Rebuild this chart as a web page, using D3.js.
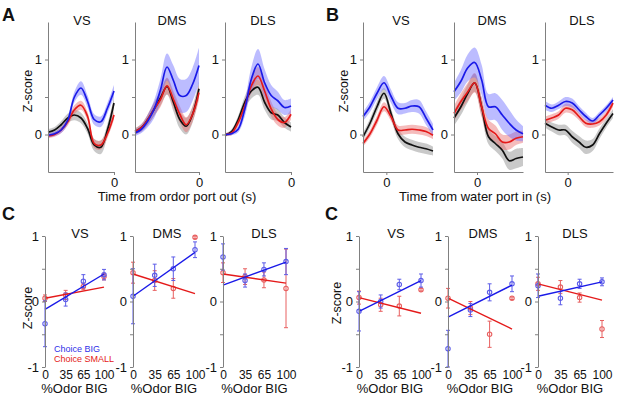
<!DOCTYPE html>
<html>
<head>
<meta charset="utf-8">
<script src="https://cdn.jsdelivr.net/npm/d3@7"></script>
<style>
  body { margin: 0; background: #fff; }
</style>
</head>
<body>
<div id="canvas"></div>
<script>
// ---- traces: time samples ----
const aTime = [-2, -1.8, -1.6, -1.4, -1.2, -1, -0.8, -0.6, -0.4, -0.2, 0];
const bTime = [-1, -0.7, -0.4, -0.1, 0.2, 0.5, 0.8, 1.1, 1.4, 1.7, 2];

// A: time from odor port out
const aVsBlue = [-0.01, 0.01, 0.06, 0.19, 0.5, 0.62, 0.44, 0.2, 0.17, 0.35, 0.58];
const aVsRed = [-0.02, 0, 0.06, 0.17, 0.33, 0.39, 0.24, -0.12, -0.14, 0.01, 0.26];
const aVsBlack = [0.03, 0.06, 0.13, 0.22, 0.26, 0.22, 0.08, -0.14, -0.17, 0.06, 0.42];
const aVsBlueSem = [0.03, 0.03, 0.04, 0.05, 0.07, 0.09, 0.08, 0.07, 0.07, 0.07, 0.08];
const aVsRedSem = [0.03, 0.03, 0.04, 0.05, 0.06, 0.06, 0.06, 0.06, 0.06, 0.06, 0.06];
const aVsBlackSem = [0.04, 0.04, 0.05, 0.06, 0.07, 0.07, 0.07, 0.08, 0.09, 0.08, 0.08];

const aDmsBlue = [0.02, 0.07, 0.18, 0.34, 0.6, 0.9, 0.72, 0.52, 0.52, 0.67, 0.92];
const aDmsRed = [0.04, 0.09, 0.2, 0.34, 0.47, 0.65, 0.47, 0.27, 0.13, 0.27, 0.56];
const aDmsBlack = [0.04, 0.09, 0.2, 0.34, 0.49, 0.64, 0.43, 0.2, 0.11, 0.27, 0.61];
const aDmsBlueSem = [0.04, 0.05, 0.08, 0.12, 0.15, 0.18, 0.2, 0.22, 0.22, 0.22, 0.24];
const aDmsRedSem = [0.04, 0.05, 0.07, 0.09, 0.1, 0.11, 0.11, 0.11, 0.1, 0.1, 0.1];
const aDmsBlackSem = [0.04, 0.05, 0.07, 0.09, 0.1, 0.11, 0.12, 0.12, 0.11, 0.11, 0.1];

const aDlsBlue = [0, 0.01, 0.07, 0.34, 0.74, 0.94, 0.69, 0.52, 0.45, 0.36, 0.38];
const aDlsRed = [0, 0.02, 0.16, 0.38, 0.65, 0.78, 0.58, 0.34, 0.2, 0.16, 0.27];
const aDlsBlack = [-0.01, 0.04, 0.2, 0.43, 0.58, 0.63, 0.43, 0.29, 0.26, 0.16, 0.1];
const aDlsBlueSem = [0.02, 0.02, 0.04, 0.1, 0.16, 0.2, 0.18, 0.14, 0.12, 0.1, 0.1];
const aDlsRedSem = [0.02, 0.03, 0.05, 0.08, 0.1, 0.12, 0.12, 0.1, 0.08, 0.07, 0.07];
const aDlsBlackSem = [0.02, 0.03, 0.05, 0.08, 0.1, 0.1, 0.1, 0.09, 0.08, 0.07, 0.06];

// B: time from water port in
const bVsBlue = [0.24, 0.37, 0.55, 0.69, 0.51, 0.35, 0.35, 0.38, 0.37, 0.22, 0.06];
const bVsRed = [-0.12, 0.01, 0.19, 0.37, 0.24, 0.06, 0.06, 0.07, 0.06, 0.04, -0.01];
const bVsBlack = [-0.03, 0.15, 0.37, 0.55, 0.28, 0.01, -0.1, -0.14, -0.17, -0.19, -0.22];
const bVsBlueSem = [0.06, 0.07, 0.08, 0.09, 0.09, 0.08, 0.07, 0.08, 0.09, 0.09, 0.08];
const bVsRedSem = [0.04, 0.05, 0.06, 0.06, 0.06, 0.06, 0.06, 0.06, 0.06, 0.06, 0.05];
const bVsBlackSem = [0.05, 0.06, 0.07, 0.07, 0.07, 0.07, 0.07, 0.07, 0.07, 0.07, 0.06];

const bDmsBlue = [0.57, 0.71, 0.89, 0.96, 0.73, 0.37, 0.37, 0.26, 0.15, 0.06, 0.01];
const bDmsRed = [0.28, 0.44, 0.57, 0.69, 0.37, 0.08, 0.01, -0.1, -0.1, -0.05, -0.03];
const bDmsBlack = [0.22, 0.37, 0.55, 0.69, 0.37, -0.03, -0.12, -0.21, -0.35, -0.32, -0.3];
const bDmsBlueSem = [0.12, 0.15, 0.18, 0.2, 0.2, 0.17, 0.18, 0.2, 0.18, 0.14, 0.1];
const bDmsRedSem = [0.1, 0.11, 0.12, 0.13, 0.13, 0.12, 0.11, 0.1, 0.1, 0.09, 0.08];
const bDmsBlackSem = [0.1, 0.11, 0.12, 0.12, 0.12, 0.1, 0.1, 0.11, 0.12, 0.13, 0.12];

const bDlsBlue = [0.39, 0.35, 0.39, 0.44, 0.42, 0.33, 0.24, 0.18, 0.26, 0.35, 0.46];
const bDlsRed = [0.19, 0.22, 0.26, 0.35, 0.33, 0.24, 0.15, 0.14, 0.17, 0.26, 0.42];
const bDlsBlack = [0.15, 0.1, 0.06, 0.06, -0.03, -0.1, -0.17, -0.14, 0.01, 0.15, 0.28];
const bDlsBlueSem = [0.06, 0.05, 0.05, 0.06, 0.06, 0.05, 0.05, 0.04, 0.04, 0.04, 0.04];
const bDlsRedSem = [0.05, 0.05, 0.05, 0.06, 0.06, 0.05, 0.05, 0.05, 0.05, 0.05, 0.05];
const bDlsBlackSem = [0.06, 0.06, 0.07, 0.07, 0.08, 0.08, 0.09, 0.08, 0.07, 0.06, 0.06];

// ---- C: z-score vs %Odor BIG ----
const cOdor = [0, 35, 65, 100];

const cOutVsBig = [-0.34, 0.03, 0.31, 0.41], cOutVsBigErr = [0.35, 0.1, 0.1, 0.08];
const cOutVsSmall = [0.05, 0.1, 0.23, 0.38], cOutVsSmallErr = [0.05, 0.07, 0.05, 0.05];
const cOutVsFitBig = [-0.12, 0.42], cOutVsFitSmall = [0.05, 0.22];

const cOutDmsBig = [0.08, 0.4, 0.5, 0.79], cOutDmsBigErr = [0.42, 0.17, 0.18, 0.12];
const cOutDmsSmall = [0.44, 0.32, 0.2, 0.98], cOutDmsSmallErr = [0.16, 0.15, 0.15, 0.02];
const cOutDmsFitBig = [0.08, 0.75], cOutDmsFitSmall = [0.42, 0.12];

const cOutDlsBig = [0.68, 0.32, 0.49, 0.61], cOutDlsBigErr = [0.2, 0.1, 0.1, 0.2];
const cOutDlsSmall = [0.44, 0.38, 0.33, 0.2], cOutDlsSmallErr = [0.15, 0.12, 0.12, 0.6];
const cOutDlsFitBig = [0.25, 0.6], cOutDlsFitSmall = [0.42, 0.28];

const cInVsBig = [-0.15, 0, 0.26, 0.32], cInVsBigErr = [0.3, 0.1, 0.08, 0.1];
const cInVsSmall = [0.06, -0.05, -0.07, 0.18], cInVsSmallErr = [0.1, 0.1, 0.15, 0.02];
const cInVsFitBig = [-0.15, 0.32], cInVsFitSmall = [0.06, -0.18];

const cInDmsBig = [-0.72, -0.13, 0.14, 0.27], cInDmsBigErr = [0.28, 0.1, 0.13, 0.12];
const cInDmsSmall = [0.05, -0.1, -0.5, 0.05], cInDmsSmallErr = [0.15, 0.1, 0.2, 0.02];
const cInDmsFitBig = [-0.24, 0.25], cInDmsFitSmall = [0.05, -0.42];

const cInDlsBig = [0.24, 0.05, 0.27, 0.3], cInDlsBigErr = [0.18, 0.1, 0.07, 0.06];
const cInDlsSmall = [0.27, 0.22, 0.06, -0.42], cInDlsSmallErr = [0.1, 0.1, 0.07, 0.13];
const cInDlsFitBig = [0.08, 0.3], cInDlsFitSmall = [0.27, 0.02];

// ---- drawing ----
const FONT = '"Liberation Sans", Arial, sans-serif';
const BLUE = "#1a1ae8", RED = "#e41a1a", BLACK = "#111";

const svg = d3.select("#canvas")
    .append("svg")
    .attr("width", 617)
    .attr("height", 396)
    .style("font-family", FONT);

function styleAxis(g, size) {
    g.attr("font-family", null);
    g.selectAll("path, line").attr("stroke", "#808080");
    g.selectAll("text").attr("fill", "#111").style("font-size", size + "px");
}

function label(txt, x, y, opts = {}) {
    const t = svg.append("text")
        .attr("x", x).attr("y", y)
        .attr("text-anchor", opts.anchor || "middle")
        .style("font-size", (opts.size || 13) + "px")
        .style("font-weight", opts.bold ? "bold" : "normal")
        .attr("fill", opts.color || "#111")
        .text(txt);
    if (opts.rotate) t.attr("transform", `rotate(-90,${x},${y})`);
    return t;
}

function tracePanel(p) {
    const x = d3.scaleLinear().domain(p.xDomain).range([p.x0, p.x1]);
    const y = d3.scaleLinear().domain([-0.5, 1.5]).range([172, 22]);
    const g = svg.append("g");

    const area = d3.area()
        .curve(d3.curveCatmullRom)
        .x((d, i) => x(p.time[i]))
        .y0(d => y(d[0] - d[1]))
        .y1(d => y(d[0] + d[1]));
    const line = d3.line()
        .curve(d3.curveCatmullRom)
        .x((d, i) => x(p.time[i]))
        .y(d => y(d));

    const curves = [
        { mean: p.black, sem: p.blackSem, stroke: BLACK, fill: "#888" },
        { mean: p.red, sem: p.redSem, stroke: RED, fill: "#e86a6a" },
        { mean: p.blue, sem: p.blueSem, stroke: BLUE, fill: "#6a6aff" }
    ];
    curves.forEach(c => g.append("path")
        .datum(d3.zip(c.mean, c.sem))
        .attr("d", area)
        .attr("fill", c.fill)
        .attr("fill-opacity", 0.45));
    curves.forEach(c => g.append("path")
        .datum(c.mean)
        .attr("d", line)
        .attr("fill", "none")
        .attr("stroke", c.stroke)
        .attr("stroke-width", 1.7));

    g.append("g")
        .attr("transform", `translate(${p.x0},0)`)
        .call(d3.axisLeft(y).tickValues([0, 0.5, 1]).tickSize(3).tickSizeOuter(0)
            .tickFormat(d => d === 0.5 ? "" : d))
        .call(styleAxis, 13);
    g.append("g")
        .attr("transform", "translate(0,172)")
        .call(d3.axisBottom(x).tickValues([0]).tickSize(3).tickSizeOuter(0)
            .tickFormat(d3.format("d")))
        .call(styleAxis, 13);

    label(p.title, p.titleX, 25);
}

function dosePanel(p) {
    const x = d3.scaleLinear().domain([0, 100]).range([p.x0, p.x1]);
    const y = d3.scaleLinear().domain([-1, 1]).range([367, 236]);
    const g = svg.append("g");

    const sets = [
        { mean: p.small, err: p.smallErr, fit: p.fitSmall, stroke: RED, light: "#e86060" },
        { mean: p.big, err: p.bigErr, fit: p.fitBig, stroke: BLUE, light: "#5c5ce8" }
    ];

    sets.forEach(s => {
        const pts = g.append("g")
            .selectAll("g")
            .data(cOdor.map((o, i) => ({ o, m: s.mean[i], e: s.err[i] })))
            .join("g")
            .attr("stroke", s.light)
            .attr("fill", "none");
        pts.append("line")
            .attr("x1", d => x(d.o)).attr("x2", d => x(d.o))
            .attr("y1", d => y(d.m - d.e)).attr("y2", d => y(d.m + d.e));
        pts.append("line")
            .attr("x1", d => x(d.o) - 2).attr("x2", d => x(d.o) + 2)
            .attr("y1", d => y(d.m - d.e)).attr("y2", d => y(d.m - d.e));
        pts.append("line")
            .attr("x1", d => x(d.o) - 2).attr("x2", d => x(d.o) + 2)
            .attr("y1", d => y(d.m + d.e)).attr("y2", d => y(d.m + d.e));
        pts.append("circle")
            .attr("cx", d => x(d.o)).attr("cy", d => y(d.m))
            .attr("r", 2.2)
            .attr("stroke-width", 1.1);
    });

    sets.forEach(s => g.append("path")
        .datum([[cOdor[0], s.fit[0]], [cOdor[cOdor.length - 1], s.fit[1]]])
        .attr("d", d3.line().x(d => x(d[0])).y(d => y(d[1])))
        .attr("stroke", s.stroke)
        .attr("stroke-width", 1.4)
        .attr("fill", "none"));

    g.append("g")
        .attr("transform", `translate(${p.x0},0)`)
        .call(d3.axisLeft(y).tickValues([-1, -0.5, 0, 0.5, 1]).tickSize(3).tickSizeOuter(0)
            .tickFormat(d => Number.isInteger(d) ? d : ""))
        .call(styleAxis, 13);
    g.append("g")
        .attr("transform", "translate(0,368)")
        .call(d3.axisBottom(x).tickValues(cOdor).tickSize(0).tickPadding(2))
        .call(styleAxis, 12)
        .call(a => a.select(".domain").remove());

    label(p.title, p.titleX, 238);
    label("%Odor BIG", (p.x0 + p.x1) / 2, 393);
}

// Panel A
tracePanel({ title: "VS", titleX: 82, x0: 48, x1: 114, xDomain: [-2, 0], time: aTime,
    blue: aVsBlue, red: aVsRed, black: aVsBlack, blueSem: aVsBlueSem, redSem: aVsRedSem, blackSem: aVsBlackSem });
tracePanel({ title: "DMS", titleX: 172, x0: 135, x1: 199, xDomain: [-2, 0], time: aTime,
    blue: aDmsBlue, red: aDmsRed, black: aDmsBlack, blueSem: aDmsBlueSem, redSem: aDmsRedSem, blackSem: aDmsBlackSem });
tracePanel({ title: "DLS", titleX: 263, x0: 225, x1: 291, xDomain: [-2, 0], time: aTime,
    blue: aDlsBlue, red: aDlsRed, black: aDlsBlack, blueSem: aDlsBlueSem, redSem: aDlsRedSem, blackSem: aDlsBlackSem });

// Panel B
tracePanel({ title: "VS", titleX: 401, x0: 363, x1: 433, xDomain: [-1, 2], time: bTime,
    blue: bVsBlue, red: bVsRed, black: bVsBlack, blueSem: bVsBlueSem, redSem: bVsRedSem, blackSem: bVsBlackSem });
tracePanel({ title: "DMS", titleX: 492, x0: 454, x1: 523, xDomain: [-1, 2], time: bTime,
    blue: bDmsBlue, red: bDmsRed, black: bDmsBlack, blueSem: bDmsBlueSem, redSem: bDmsRedSem, blackSem: bDmsBlackSem });
tracePanel({ title: "DLS", titleX: 582, x0: 545, x1: 613, xDomain: [-1, 2], time: bTime,
    blue: bDlsBlue, red: bDlsRed, black: bDlsBlack, blueSem: bDlsBlueSem, redSem: bDlsRedSem, blackSem: bDlsBlackSem });

// Panel C (left and right)
dosePanel({ title: "VS", titleX: 80, x0: 45, x1: 104, big: cOutVsBig, bigErr: cOutVsBigErr,
    small: cOutVsSmall, smallErr: cOutVsSmallErr, fitBig: cOutVsFitBig, fitSmall: cOutVsFitSmall });
dosePanel({ title: "DMS", titleX: 167, x0: 133, x1: 195, big: cOutDmsBig, bigErr: cOutDmsBigErr,
    small: cOutDmsSmall, smallErr: cOutDmsSmallErr, fitBig: cOutDmsFitBig, fitSmall: cOutDmsFitSmall });
dosePanel({ title: "DLS", titleX: 264, x0: 223, x1: 286, big: cOutDlsBig, bigErr: cOutDlsBigErr,
    small: cOutDlsSmall, smallErr: cOutDlsSmallErr, fitBig: cOutDlsFitBig, fitSmall: cOutDlsFitSmall });
dosePanel({ title: "VS", titleX: 396, x0: 359, x1: 421, big: cInVsBig, bigErr: cInVsBigErr,
    small: cInVsSmall, smallErr: cInVsSmallErr, fitBig: cInVsFitBig, fitSmall: cInVsFitSmall });
dosePanel({ title: "DMS", titleX: 483, x0: 448, x1: 512, big: cInDmsBig, bigErr: cInDmsBigErr,
    small: cInDmsSmall, smallErr: cInDmsSmallErr, fitBig: cInDmsFitBig, fitSmall: cInDmsFitSmall });
dosePanel({ title: "DLS", titleX: 575, x0: 538, x1: 602, big: cInDlsBig, bigErr: cInDlsBigErr,
    small: cInDlsSmall, smallErr: cInDlsSmallErr, fitBig: cInDlsFitBig, fitSmall: cInDlsFitSmall });

// labels
label("A", 2, 21, { anchor: "start", size: 18, bold: true });
label("B", 326, 21, { anchor: "start", size: 18, bold: true });
label("C", 2, 220, { anchor: "start", size: 18, bold: true });
label("C", 325, 220, { anchor: "start", size: 18, bold: true });

label("Z-score", 32, 91, { rotate: true, size: 12.5 });
label("Z-score", 348, 91, { rotate: true, size: 12.5 });
label("Z-score", 32, 308, { rotate: true, size: 12.5 });
label("Z-score", 341, 303, { rotate: true, size: 12.5 });

label("Time from ordor port out (s)", 177, 201);
label("Time from water port in (s)", 475, 201);

label("Choice BIG", 54, 352, { anchor: "start", size: 9, color: "#3030e8" });
label("Choice SMALL", 54, 362, { anchor: "start", size: 9, color: "#e42020" });
</script>
</body>
</html>
